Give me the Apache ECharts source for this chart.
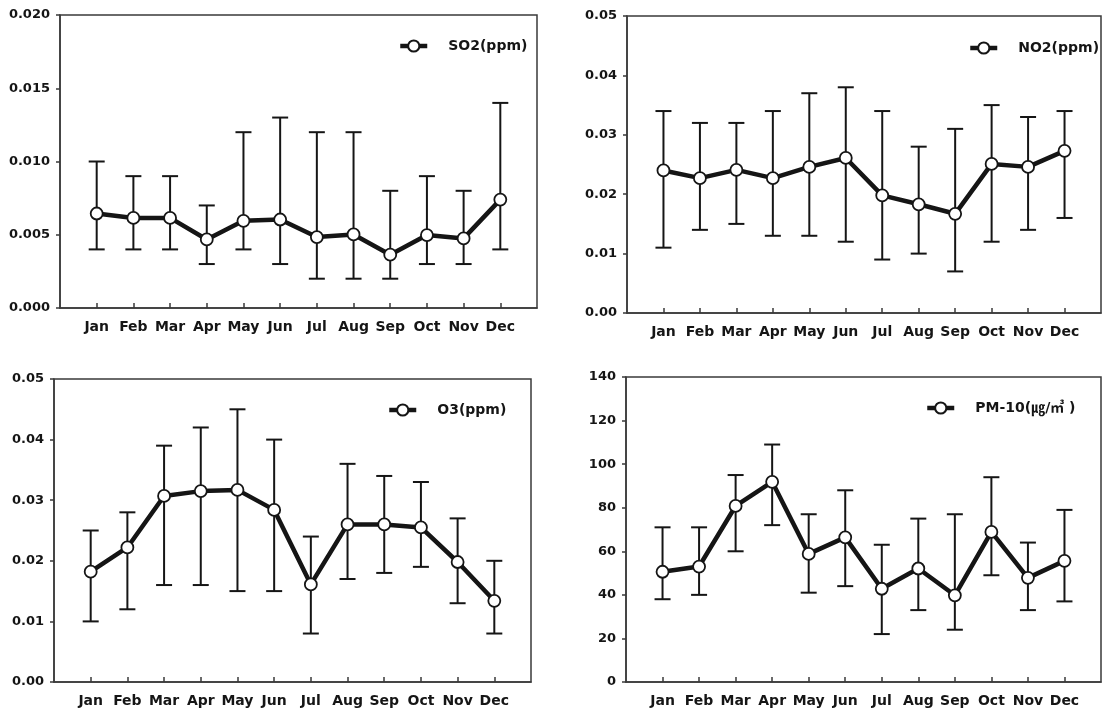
<!DOCTYPE html>
<html>
<head>
<meta charset="utf-8">
<script src="https://cdn.jsdelivr.net/npm/echarts@6/dist/echarts.min.js"></script>
<style>html,body{margin:0;padding:0;background:#fff}#c{width:1104px;height:710px}</style>
</head>
<body>
<div id="c"></div>
<script>
const months = ['Jan','Feb','Mar','Apr','May','Jun','Jul','Aug','Sep','Oct','Nov','Dec'];

const so2Mean = [0.00645,0.00615,0.00615,0.00468,0.00595,0.00604,0.00484,0.00502,0.00364,0.00498,0.00475,0.0074];
const so2Hi   = [0.010,0.009,0.009,0.007,0.012,0.013,0.012,0.012,0.008,0.009,0.008,0.014];
const so2Lo   = [0.004,0.004,0.004,0.003,0.004,0.003,0.002,0.002,0.002,0.003,0.003,0.004];

const no2Mean = [0.0240,0.0227,0.0241,0.0227,0.0246,0.0261,0.0198,0.0183,0.0167,0.0251,0.0246,0.0273];
const no2Hi   = [0.034,0.032,0.032,0.034,0.037,0.038,0.034,0.028,0.031,0.035,0.033,0.034];
const no2Lo   = [0.011,0.014,0.015,0.013,0.013,0.012,0.009,0.010,0.007,0.012,0.014,0.016];

const o3Mean = [0.0182,0.0222,0.0307,0.0315,0.0317,0.0284,0.0161,0.0260,0.0260,0.0255,0.0198,0.0134];
const o3Hi   = [0.025,0.028,0.039,0.042,0.045,0.040,0.024,0.036,0.034,0.033,0.027,0.020];
const o3Lo   = [0.010,0.012,0.016,0.016,0.015,0.015,0.008,0.017,0.018,0.019,0.013,0.008];

const pmMean = [50.6,53.0,80.8,91.9,58.8,66.4,42.8,52.1,39.8,68.9,47.8,55.6];
const pmHi   = [71,71,95,109,77,88,63,75,77,94,64,79];
const pmLo   = [38,40,60,72,41,44,22,33,24,49,33,37];

const yTicksSO2 = {min:0, max:0.020, interval:0.005, digits:3};
const yTicksNO2 = {min:0, max:0.05, interval:0.01, digits:2};
const yTicksO3  = {min:0, max:0.05, interval:0.01, digits:2};
const yTicksPM  = {min:0, max:140, interval:20, digits:0};

const names = ['SO2(ppm)','NO2(ppm)','O3(ppm)','PM-10(㎍/㎥ )'];

const FONT = 'DejaVu Sans, Noto Sans CJK KR, sans-serif';
const INK = '#151515';

const panels = [
  {grid:{left:60, top:15, width:477, height:293}, y:yTicksSO2, mean:so2Mean, hi:so2Hi, lo:so2Lo, legend:{left:398, top:39}},
  {grid:{left:627, top:16, width:478, height:297}, y:yTicksNO2, mean:no2Mean, hi:no2Hi, lo:no2Lo, legend:{left:968, top:41}},
  {grid:{left:54, top:379, width:477, height:303}, y:yTicksO3, mean:o3Mean, hi:o3Hi, lo:o3Lo, legend:{left:387, top:403}},
  {grid:{left:626, top:377, width:479, height:305}, y:yTicksPM, mean:pmMean, hi:pmHi, lo:pmLo, legend:{left:925, top:401}}
];

const xCats = [''].concat(months, ['']);

const option = {
  animation:false,
  backgroundColor:'#fff',
  grid:[], xAxis:[], yAxis:[], series:[], legend:[]
};

panels.forEach((p, k) => {
  option.grid.push(Object.assign({show:true, borderColor:'#3a3a3a', borderWidth:1.5, backgroundColor:'transparent'}, p.grid));
  option.xAxis.push({
    type:'category', gridIndex:k, data:xCats, boundaryGap:false,
    axisLine:{show:true, lineStyle:{color:'#3a3a3a', width:1.5}},
    axisTick:{show:true, inside:true, length:5, interval:(i)=> i>0 && i<13, lineStyle:{color:'#3a3a3a', width:1.5}},
    axisLabel:{interval:0, margin:12, color:INK, fontFamily:FONT, fontWeight:'bold', fontSize:14},
    splitLine:{show:false}
  });
  option.yAxis.push({
    type:'value', gridIndex:k, min:p.y.min, max:p.y.max, interval:p.y.interval,
    axisLine:{show:true, lineStyle:{color:'#3a3a3a', width:1.5}},
    axisTick:{show:true, inside:false, length:4, lineStyle:{color:'#3a3a3a', width:1.5}},
    axisLabel:{margin:10, color:INK, fontFamily:FONT, fontWeight:'bold', fontSize:13,
      formatter:(v)=> Number(v).toFixed(p.y.digits)},
    splitLine:{show:false}
  });
  const errData = months.map((m,i)=>[i+1, p.lo[i], p.hi[i]]);
  option.series.push({
    type:'custom', xAxisIndex:k, yAxisIndex:k, z:1, silent:true,
    encode:{x:0, y:[1,2]},
    data:errData,
    renderItem:(params, api) => {
      const x = api.value(0);
      const top = api.coord([x, api.value(2)]);
      const bot = api.coord([x, api.value(1)]);
      const hw = 8;
      const st = {stroke:INK, lineWidth:2};
      return {type:'group', children:[
        {type:'line', shape:{x1:top[0], y1:top[1], x2:bot[0], y2:bot[1]}, style:st},
        {type:'line', shape:{x1:top[0]-hw, y1:top[1], x2:top[0]+hw, y2:top[1]}, style:st},
        {type:'line', shape:{x1:bot[0]-hw, y1:bot[1], x2:bot[0]+hw, y2:bot[1]}, style:st}
      ]};
    }
  });
  option.series.push({
    name:names[k], type:'line', xAxisIndex:k, yAxisIndex:k, z:3,
    data:months.map((m,i)=>[i+1, p.mean[i]]),
    symbol:'circle', symbolSize:12, showSymbol:true,
    lineStyle:{color:INK, width:4.5},
    itemStyle:{color:'#fff', borderColor:INK, borderWidth:1.8}
  });
  option.legend.push({
    data:[names[k]], left:p.legend.left, top:p.legend.top, padding:0,
    itemWidth:27, itemHeight:14, selectedMode:false,
    lineStyle:{width:4.5, color:INK},
    textStyle:{color:INK, fontFamily:FONT, fontWeight:'bold', fontSize:14, padding:[0,0,0,16]}
  });
});

const chart = echarts.init(document.getElementById('c'), null, {renderer:'canvas'});
chart.setOption(option);
</script>
</body>
</html>
